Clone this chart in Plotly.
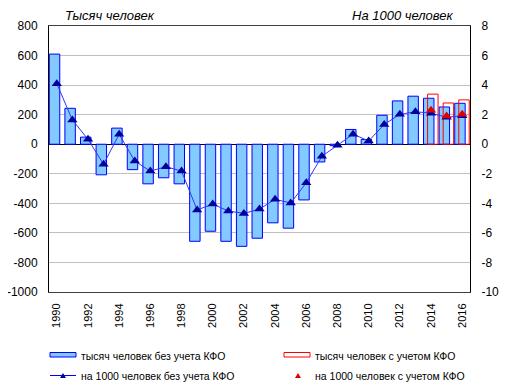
import plotly.graph_objects as go

# ---- data ----
years = list(range(1990, 2017))
thousands_excl = [610, 243, 48, -207, 109, -172, -268, -227, -268, -657, -589, -657, -691,
                  -636, -532, -568, -377, -120, -10, 100, 32, 196, 293, 325, 311, 252, 277]
thousands_incl = [None] * 24 + [339, 279, 300]
rate_excl = [4.1, 1.64, 0.34, -1.36, 0.68, -1.14, -1.82, -1.52, -1.82, -4.45, -4.05, -4.52, -4.68,
             -4.39, -3.73, -3.98, -2.61, -0.82, -0.07, 0.68, 0.22, 1.34, 2.02, 2.2, 2.1, 1.82, 1.93]
rate_incl = [None] * 24 + [2.3, 1.91, 2.02]
tick_years = years[::2]
left_ticks = [800, 600, 400, 200, 0, -200, -400, -600, -800, -1000]
left_ticktext = ["800", "600", "400", "200", "0", "-200", "-400", "-600", "-800", "-1000"]
right_ticks = [8, 6, 4, 2, 0, -2, -4, -6, -8, -10]
right_ticktext = ["8", "6", "4", "2", "0", "-2", "-4", "-6", "-8", "-10"]

left_title = "Тысяч человек"
right_title = "На 1000 человек"
legend_labels = ["тысяч человек без учета КФО", "тысяч человек с учетом КФО",
                 "на 1000 человек без учета КФО", "на 1000 человек с учетом КФО"]

# ---- layout geometry (page body has an 8px margin) ----
OFF = 8
W, H = 517 - OFF, 391 - OFF
PL, PR, PT, PB = 49, 470, 26, 292          # plot box in window pixels
L, T = PL - OFF, PT - OFF
R = W - (PR - OFF)
B = H - (PB - OFF)
PW, PH = PR - PL, PB - PT


def px(x):
    return (x - PL) / PW


def py(y):
    return (PB - y) / PH


FONT = "Liberation Sans, Arial, sans-serif"
BLUE_FILL = "#82CAFF"

fig = go.Figure()
fig.add_trace(go.Bar(x=years, y=thousands_excl, name=legend_labels[0], width=0.67, offset=-0.48,
                     marker=dict(color=BLUE_FILL, line=dict(color="#0000FF", width=1)),
                     showlegend=False))
fig.add_trace(go.Bar(x=years, y=thousands_incl, name=legend_labels[1], width=0.67, offset=-0.22,
                     marker=dict(color="rgba(0,0,0,0)", line=dict(color="#FF0000", width=1)),
                     showlegend=False))
fig.add_trace(go.Scatter(x=years, y=rate_excl, name=legend_labels[2], yaxis="y2", mode="lines+markers",
                         line=dict(color="#3333FF", width=1),
                         marker=dict(symbol="triangle-up", size=9, color="#00009C"),
                         showlegend=False))
fig.add_trace(go.Scatter(x=years, y=rate_incl, name=legend_labels[3], yaxis="y2", mode="markers",
                         marker=dict(symbol="triangle-up", size=9, color="#E00000"),
                         showlegend=False))

# ---- custom legend ----
shapes = []
ann = []
r1, r2 = 355.5, 375.5
shapes.append(dict(type="rect", xref="paper", yref="paper", x0=px(50), x1=px(76), y0=py(357), y1=py(352.5),
                   fillcolor=BLUE_FILL, line=dict(color="#0000FF", width=1)))
shapes.append(dict(type="rect", xref="paper", yref="paper", x0=px(284), x1=px(310), y0=py(357), y1=py(352.5),
                   fillcolor="white", line=dict(color="#FF0000", width=1)))
shapes.append(dict(type="line", xref="paper", yref="paper", x0=px(50), x1=px(76), y0=py(r2), y1=py(r2),
                   line=dict(color="#0000FF", width=1)))


def tri(cx, cy, w, h, color):
    path = "M {} {} L {} {} L {} {} Z".format(px(cx - w / 2), py(cy + h / 2), px(cx + w / 2), py(cy + h / 2),
                                             px(cx), py(cy - h / 2))
    return dict(type="path", xref="paper", yref="paper", path=path, fillcolor=color, line=dict(width=0))


shapes.append(tri(63, r2, 6, 5, "#00009C"))
shapes.append(tri(298, r2, 6, 5, "#E00000"))

for (x, y), t in zip([(79, r1), (313, r1), (79, r2), (313, r2)], legend_labels):
    ann.append(dict(xref="paper", yref="paper", x=px(x), y=py(y), text=t, showarrow=False,
                    xanchor="left", yanchor="middle", font=dict(size=10.5, color="black", family=FONT)))

ann.append(dict(xref="paper", yref="paper", x=px(63), y=py(15.5), text="<i>" + left_title + "</i>",
                showarrow=False, xanchor="left", yanchor="middle", font=dict(size=13, color="black", family=FONT)))
ann.append(dict(xref="paper", yref="paper", x=px(456), y=py(15.5), text="<i>" + right_title + "</i>",
                showarrow=False, xanchor="right", yanchor="middle", font=dict(size=13, color="black", family=FONT)))

fig.update_layout(
    template="none",
    width=W, height=H, margin=dict(l=L, r=R, t=T, b=B, pad=0, autoexpand=False),
    paper_bgcolor="white", plot_bgcolor="white",
    barmode="overlay", font=dict(family=FONT, size=12, color="black"),
    shapes=shapes, annotations=ann, showlegend=False,
    xaxis=dict(range=[1989.5, 2016.5], tickvals=tick_years, ticktext=[str(v) for v in tick_years],
               tickangle=-90, showgrid=False, zeroline=False, showline=True, mirror=True,
               linecolor="#404040", linewidth=1, ticks="", tickfont=dict(size=11), ticklabelstandoff=6,
               automargin=False),
    yaxis=dict(range=[-1000, 800], tickvals=left_ticks, ticktext=left_ticktext, showgrid=True,
               gridcolor="#C0C0C0", gridwidth=1,
               zeroline=True, zerolinecolor="black", zerolinewidth=1, showline=True, linecolor="black",
               linewidth=1, ticks="", tickfont=dict(size=12), ticklabelstandoff=8, automargin=False),
    yaxis2=dict(range=[-10, 8], tickvals=right_ticks, ticktext=right_ticktext, overlaying="y", side="right",
                showgrid=False, zeroline=False,
                showline=True, linecolor="black", linewidth=1, ticks="", tickfont=dict(size=12),
                ticklabelstandoff=8, automargin=False),
)

fig.write_html("out.html")
